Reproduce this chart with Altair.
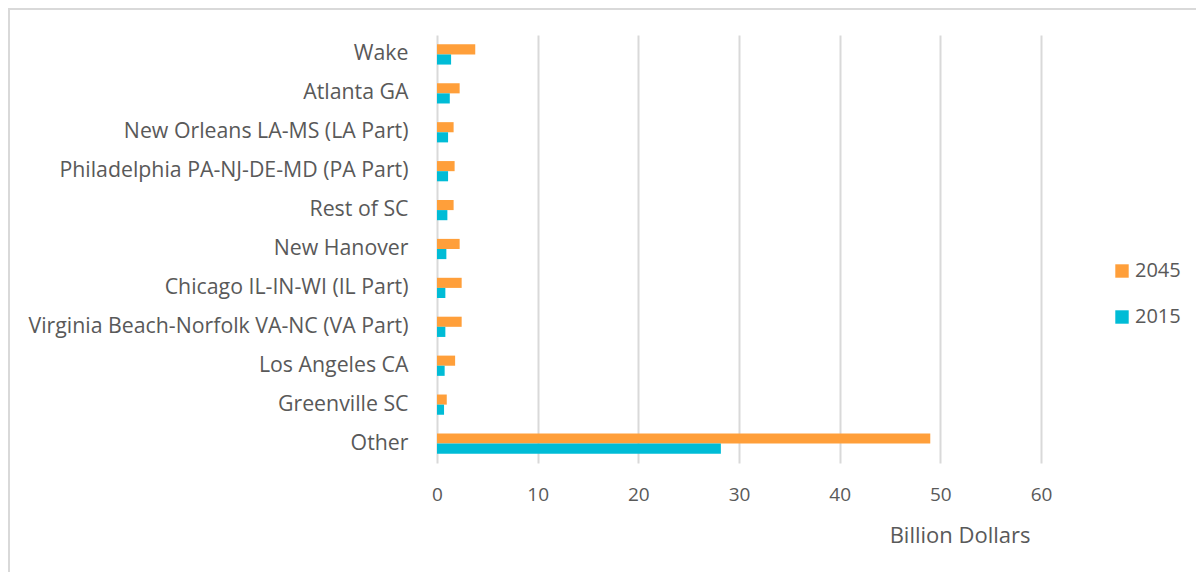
import altair as alt
import pandas as pd

categories = ["Wake", "Atlanta GA", "New Orleans LA-MS (LA Part)",
              "Philadelphia PA-NJ-DE-MD (PA Part)", "Rest of SC", "New Hanover",
              "Chicago IL-IN-WI (IL Part)", "Virginia Beach-Norfolk VA-NC (VA Part)",
              "Los Angeles CA", "Greenville SC", "Other"]
values_2045 = [3.8, 2.25, 1.65, 1.75, 1.65, 2.25, 2.45, 2.45, 1.8, 0.97, 49.0]
values_2015 = [1.4, 1.27, 1.1, 1.1, 1.03, 0.93, 0.83, 0.83, 0.76, 0.7, 28.2]
series = ["2045", "2015"]
colors = ["#FF9F3A", "#00BCD6"]

rows = []
for c, a, b in zip(categories, values_2045, values_2015):
    rows.append({"cat": c, "year": "2045", "value": a})
    rows.append({"cat": c, "year": "2015", "value": b})
df = pd.DataFrame(rows)

W, H = 604, 428
font = "Open Sans"
gray = "#595959"

bars = alt.Chart(df).mark_bar().encode(
    y=alt.Y("cat:N", sort=categories,
            scale=alt.Scale(paddingInner=0.48, paddingOuter=0.24),
            axis=alt.Axis(title=None, ticks=False, domain=False, grid=False,
                          labelFontSize=21.3, labelColor=gray, labelFont=font,
                          labelPadding=29, labelLimit=500)),
    yOffset=alt.YOffset("year:N", sort=series),
    x=alt.X("value:Q", scale=alt.Scale(domain=[0, 60], nice=False),
            axis=alt.Axis(title="Billion Dollars", titleAnchor="end",
                          titleFontSize=22, titleFontWeight="normal",
                          titleColor=gray, titleFont=font, titlePadding=21,
                          titleX=593, values=[0, 10, 20, 30, 40, 50, 60],
                          labelFontSize=19, labelColor=gray, labelFont=font,
                          labelPadding=22, labelFlush=False, ticks=False,
                          domain=False, grid=True, gridColor="#d9d9d9",
                          gridWidth=2)),
    color=alt.Color("year:N", sort=series,
                    scale=alt.Scale(domain=series, range=colors),
                    legend=alt.Legend(title=None, orient="none", legendX=675,
                                      legendY=226, symbolType="square",
                                      symbolSize=180, symbolStrokeWidth=0,
                                      labelFontSize=20, labelColor=gray,
                                      labelFont=font, rowPadding=26,
                                      labelOffset=3)),
)

border = alt.Chart(pd.DataFrame({"a": [0]})).mark_rect(
    fill=None, stroke="#d9d9d9", strokeWidth=2
).encode(
    x=alt.value(-428), x2=alt.value(W + 170),
    y=alt.value(-26), y2=alt.value(H + 130),
)

chart = alt.layer(border, bars).properties(
    width=W, height=H,
    autosize=alt.AutoSizeParams(type="none"),
    padding={"left": 429, "top": 27, "right": 155, "bottom": 109},
).configure_view(stroke=None)

chart.save("out.html", embed_options={"renderer": "svg", "actions": False})
